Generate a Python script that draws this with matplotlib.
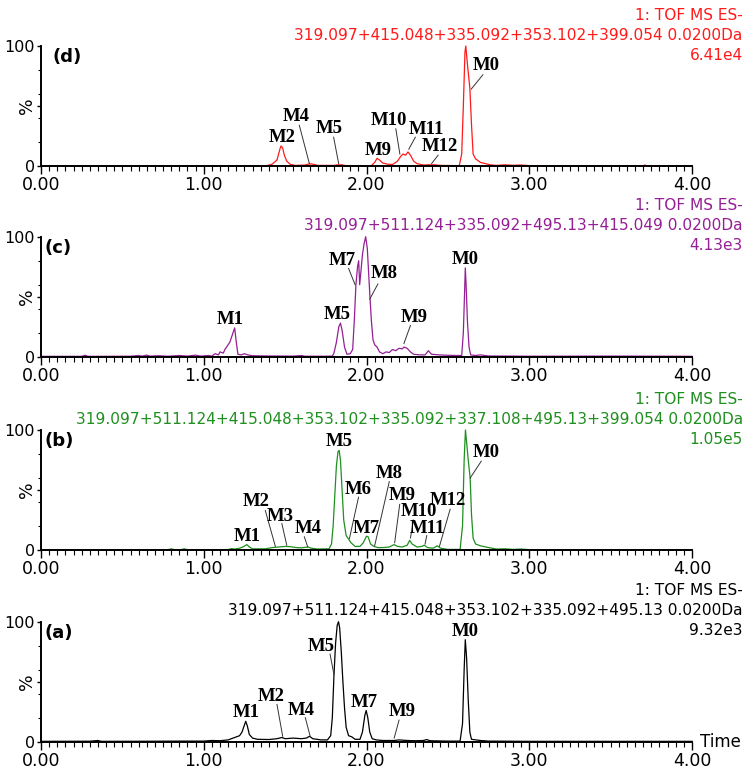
import matplotlib
matplotlib.use("Agg")
import matplotlib.pyplot as plt
from matplotlib.ticker import MultipleLocator, FixedLocator

# ---- trace data: (time, %) ----
d_trace = [(0.00, 0.0), (1.38, 0.0), (1.42, 1.5), (1.45, 5), (1.46, 10), (1.47, 15), (1.475, 16.7),
           (1.485, 15), (1.495, 9), (1.51, 4), (1.53, 1.5), (1.56, 0.5), (1.62, 0.8), (1.64, 1.5),
           (1.66, 1.8), (1.68, 1.2), (1.70, 0.5), (1.80, 0.5), (1.82, 1.0), (1.85, 1.0), (1.87, 0.3),
           (2.03, 0.3), (2.05, 3), (2.065, 6.4), (2.08, 5), (2.10, 2.5), (2.13, 1.5), (2.16, 1.2),
           (2.19, 4), (2.21, 8), (2.225, 10), (2.24, 9), (2.255, 11.7), (2.27, 9), (2.29, 4),
           (2.31, 2), (2.35, 0.8), (2.38, 1.0), (2.42, 1.0), (2.45, 0.5), (2.57, 0.3), (2.585, 10),
           (2.595, 50), (2.605, 95), (2.61, 100), (2.62, 85), (2.635, 65), (2.645, 35), (2.655, 10),
           (2.67, 6), (2.70, 3), (2.73, 2), (2.76, 1), (2.80, 0.5), (2.85, 1), (2.90, 0.6),
           (2.95, 0.8), (3.00, 0.3), (3.70, 0.3), (3.71, 0.8), (3.72, 0.3), (4.00, 0.2)]

c_trace = [(0.00, 0.3), (0.25, 0.3), (0.27, 1.2), (0.29, 0.3), (0.55, 0.4), (0.60, 1.0), (0.62, 0.5),
           (0.65, 1.3), (0.67, 0.5), (0.72, 0.8), (0.78, 0.4), (0.85, 1.0), (0.90, 0.5), (0.95, 1.3),
           (0.98, 0.5), (1.03, 1.0), (1.05, 0.5), (1.07, 2.5), (1.09, 1.5), (1.10, 4), (1.12, 3),
           (1.13, 6), (1.15, 10), (1.16, 12), (1.17, 16), (1.18, 20), (1.19, 24), (1.20, 12),
           (1.21, 2), (1.23, 1.5), (1.25, 2.5), (1.27, 1.5), (1.30, 0.8), (1.40, 0.6), (1.55, 0.5),
           (1.60, 1.0), (1.62, 0.4), (1.75, 0.4), (1.79, 0.5), (1.80, 3), (1.815, 12), (1.83, 25),
           (1.84, 28), (1.85, 22), (1.865, 8), (1.88, 2), (1.90, 2.5), (1.915, 6), (1.925, 30),
           (1.935, 60), (1.945, 75), (1.952, 80), (1.958, 60), (1.965, 70), (1.975, 85), (1.985, 94),
           (1.995, 100), (2.005, 90), (2.015, 65), (2.022, 48), (2.03, 30), (2.04, 14), (2.05, 10),
           (2.065, 8), (2.08, 4), (2.10, 2.5), (2.12, 4), (2.14, 3.5), (2.16, 6), (2.18, 5),
           (2.20, 7), (2.22, 6.5), (2.23, 8), (2.25, 7), (2.27, 4), (2.29, 2), (2.33, 1.5),
           (2.36, 1.5), (2.38, 5), (2.40, 2), (2.45, 1.5), (2.50, 1.2), (2.55, 1), (2.585, 1),
           (2.595, 20), (2.603, 55), (2.607, 74), (2.612, 60), (2.62, 30), (2.63, 8), (2.64, 1.5),
           (2.67, 1), (2.70, 1.5), (2.75, 0.6), (2.90, 0.5), (3.00, 0.4), (3.50, 0.5), (3.90, 0.4),
           (4.00, 0.3)]

b_trace = [(0.00, 0.2), (0.78, 0.2), (0.80, 1.0), (0.82, 0.3), (0.86, 0.3), (0.88, 1.0), (0.90, 0.3),
           (1.15, 0.3), (1.17, 1.2), (1.19, 0.8), (1.22, 1.5), (1.24, 2.5), (1.265, 4.5), (1.28, 2.5),
           (1.30, 1.0), (1.38, 1.0), (1.42, 2.0), (1.46, 2.5), (1.50, 3.0), (1.53, 2.8), (1.57, 2.0),
           (1.60, 1.8), (1.64, 2.5), (1.66, 1.5), (1.70, 0.8), (1.77, 1.0), (1.785, 5), (1.795, 20),
           (1.805, 45), (1.815, 70), (1.825, 82), (1.832, 83), (1.84, 75), (1.85, 50), (1.86, 25),
           (1.875, 12), (1.89, 9), (1.905, 6), (1.93, 3), (1.96, 3), (1.98, 6), (2.00, 11.5),
           (2.01, 11), (2.025, 5), (2.045, 3), (2.07, 2), (2.10, 2), (2.14, 2.5), (2.17, 4.5),
           (2.19, 3), (2.22, 2.5), (2.25, 4), (2.265, 8), (2.28, 5), (2.31, 2.5), (2.34, 3),
           (2.355, 4), (2.375, 2), (2.41, 1.5), (2.435, 3.5), (2.455, 1.5), (2.50, 0.5), (2.575, 0.5),
           (2.59, 20), (2.60, 75), (2.608, 100), (2.615, 90), (2.625, 75), (2.637, 60), (2.645, 30),
           (2.655, 10), (2.67, 5), (2.70, 3.5), (2.75, 2), (2.80, 0.8), (2.85, 1.0), (2.90, 0.5),
           (2.95, 0.8), (3.00, 0.3), (4.00, 0.2)]

a_trace = [(0.00, 0.3), (0.30, 0.4), (0.35, 1.0), (0.37, 0.3), (0.70, 0.4), (0.85, 0.5), (1.00, 0.5),
           (1.05, 1.0), (1.10, 0.8), (1.15, 1.5), (1.18, 3), (1.20, 4), (1.22, 5), (1.235, 8),
           (1.25, 14), (1.258, 17), (1.268, 13), (1.28, 6), (1.30, 3), (1.33, 2), (1.40, 1.8),
           (1.45, 2.5), (1.48, 3.5), (1.50, 2.5), (1.55, 3), (1.60, 2.5), (1.63, 3), (1.65, 4.5),
           (1.67, 2.5), (1.72, 1.5), (1.76, 1.5), (1.78, 5), (1.79, 20), (1.80, 55), (1.81, 82),
           (1.82, 97), (1.828, 100), (1.835, 95), (1.845, 75), (1.855, 50), (1.865, 28), (1.875, 12),
           (1.89, 5), (1.91, 4), (1.93, 2), (1.96, 2), (1.975, 8), (1.99, 22), (1.998, 26),
           (2.008, 20), (2.02, 8), (2.035, 2.5), (2.06, 1.5), (2.10, 1), (2.17, 1), (2.20, 1.5),
           (2.25, 1), (2.30, 0.8), (2.35, 1), (2.37, 1.8), (2.39, 0.8), (2.50, 0.5), (2.575, 0.5),
           (2.59, 15), (2.60, 60), (2.607, 85), (2.615, 70), (2.625, 35), (2.635, 8), (2.645, 2),
           (2.70, 1), (2.75, 0.5), (3.00, 0.3), (4.00, 0.3)]

# headers (ion list and base peak intensity)
d_header = ["1: TOF MS ES-", "319.097+415.048+335.092+353.102+399.054 0.0200Da", "6.41e4"]
c_header = ["1: TOF MS ES-", "319.097+511.124+335.092+495.13+415.049 0.0200Da", "4.13e3"]
b_header = ["1: TOF MS ES-", "319.097+511.124+415.048+353.102+335.092+337.108+495.13+399.054 0.0200Da", "1.05e5"]
a_header = ["1: TOF MS ES-", "319.097+511.124+415.048+353.102+335.092+495.13 0.0200Da", "9.32e3"]

# peak labels: name, label (t, %), leader line (t0, %0, t1, %1) or None
d_marks = [("M2", 1.481, 24, None), ("M4", 1.567, 41, (1.587, 34, 1.649, 2)),
           ("M5", 1.768, 31, (1.798, 24, 1.829, 2)), ("M9", 2.07, 13, None),
           ("M10", 2.137, 38, (2.18, 31, 2.205, 10)), ("M11", 2.367, 30.6, (2.30, 24, 2.26, 14)),
           ("M12", 2.453, 16, (2.44, 9, 2.40, 2)), ("M0", 2.736, 84, (2.715, 76, 2.643, 64))]
c_marks = [("M1", 1.161, 31, None), ("M5", 1.823, 35, None),
           ("M7", 1.850, 80, (1.89, 73.5, 1.93, 60)), ("M8", 2.111, 69, (2.07, 60.6, 2.02, 48)),
           ("M9", 2.295, 33, (2.27, 26, 2.23, 11)), ("M0", 2.607, 81, None)]
b_marks = [("M1", 1.27, 11, None), ("M2", 1.321, 40, (1.378, 33, 1.44, 3)),
           ("M3", 1.469, 28, (1.48, 22, 1.51, 4)), ("M4", 1.639, 18, (1.618, 11, 1.639, 2.5)),
           ("M5", 1.83, 90.6, None), ("M6", 1.947, 50, (1.951, 44, 1.895, 9.5)),
           ("M7", 1.998, 18, None), ("M8", 2.137, 64, (2.14, 57, 2.05, 3.5)),
           ("M9", 2.217, 45.6, (2.204, 38, 2.173, 6)), ("M10", 2.322, 31.7, (2.288, 25, 2.27, 10)),
           ("M11", 2.377, 18, (2.37, 12, 2.36, 5)), ("M12", 2.50, 41, (2.514, 34, 2.448, 3)),
           ("M0", 2.736, 81, (2.705, 74, 2.637, 60))]
a_marks = [("M1", 1.26, 24.5, None), ("M2", 1.413, 37.5, (1.45, 31, 1.485, 4.5)),
           ("M4", 1.598, 26, (1.624, 20, 1.653, 5)), ("M5", 1.721, 79, (1.776, 73, 1.80, 56)),
           ("M7", 1.988, 33, None), ("M9", 2.217, 25, (2.20, 18, 2.17, 3)), ("M0", 2.607, 92, None)]

panels = [
    ("(d)", d_trace, d_header, d_marks, "#ff1a1a", 46.0, 53),
    ("(c)", c_trace, c_header, c_marks, "#951f95", 236.7, 45),
    ("(b)", b_trace, b_header, b_marks, "#1f8f1f", 430.0, 45),
    ("(a)", a_trace, a_header, a_marks, "#000000", 621.7, 45),
]

W, H = 750, 769
fig = plt.figure(figsize=(7.5, 7.69), dpi=100)
fig.patch.set_facecolor("white")

left_px, right_px, h_px = 41, 692, 120.0
serif = ["Liberation Serif", "DejaVu Serif"]

for i, (tag, trace, header, marks, color, top_px, tag_px) in enumerate(panels):
    ax = fig.add_axes([left_px / W, 1 - (top_px + h_px) / H, (right_px - left_px) / W, h_px / H])
    t = [p[0] for p in trace]
    v = [p[1] for p in trace]
    ax.plot(t, v, color=color, lw=0.9, clip_on=False, zorder=3)
    ax.set_xlim(0, 4)
    ax.set_ylim(0, 100)

    for s in ["top", "right"]:
        ax.spines[s].set_visible(False)
    for s in ["left", "bottom"]:
        ax.spines[s].set_linewidth(1.4)
        ax.spines[s].set_zorder(4)

    ax.xaxis.set_major_locator(MultipleLocator(1))
    ax.xaxis.set_minor_locator(MultipleLocator(0.05))
    ax.set_xticklabels([f"{x:.2f}" for x in ax.get_xticks()])
    ax.yaxis.set_major_locator(FixedLocator([0, 50, 100]))
    ax.yaxis.set_minor_locator(FixedLocator([20, 40, 60, 80]))
    ax.set_yticklabels(["0", "", "100"])
    ax.tick_params(axis="x", which="major", direction="out", length=6, width=1, pad=1.5, labelsize=12.5)
    ax.tick_params(axis="x", which="minor", direction="out", length=3.5, width=0.8)
    ax.tick_params(axis="y", which="major", direction="out", length=3, width=1, pad=1.5, labelsize=11.5)
    ax.tick_params(axis="y", which="minor", direction="out", length=2, width=0.8)

    ax.annotate("%", xy=(0, 0.5), xycoords="axes fraction", xytext=(-10, 0),
                textcoords="offset points", rotation=90, ha="center", va="center", fontsize=12.5)

    # header block in the top right corner
    for line, dy in zip(header, [22.3, 7.9, -6.5]):
        ax.annotate(line, xy=(1, 1), xycoords="axes fraction", xytext=(36.5, dy),
                    textcoords="offset points", ha="right", va="center", fontsize=11.1, color=color)

    ax.text((tag_px - left_px) / (right_px - left_px), 1 - 11 / h_px, tag, transform=ax.transAxes,
            ha="left", va="center", fontsize=13, fontweight="bold", zorder=5)

    for name, lx, ly, lead in marks:
        ax.text(lx, ly, name, ha="center", va="center", fontsize=13.5, fontweight="bold",
                family=serif, zorder=5, clip_on=False)
        if lead is not None:
            ax.plot([lead[0], lead[2]], [lead[1], lead[3]], color="#333333", lw=0.7,
                    clip_on=False, zorder=5)

    if tag == "(a)":
        ax.annotate("Time", xy=(1, 0), xycoords="axes fraction", xytext=(6, 0),
                    textcoords="offset points", ha="left", va="center", fontsize=12)

fig.savefig("out.png", dpi=100)
